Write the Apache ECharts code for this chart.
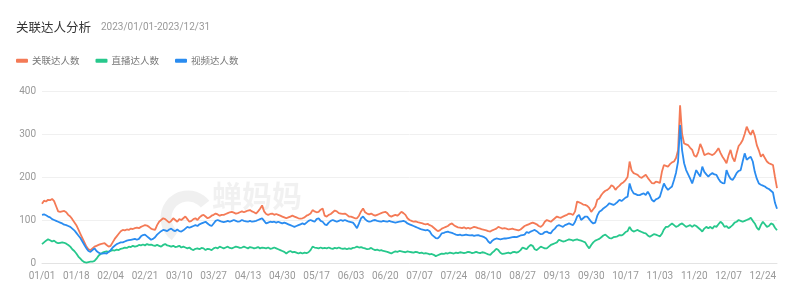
<!DOCTYPE html>
<html><head><meta charset="utf-8">
<script src="https://cdn.jsdelivr.net/npm/echarts@6/dist/echarts.min.js"></script>
<style>html,body{margin:0;padding:0;background:#fff}#c{width:800px;height:300px}</style>
</head><body><div id="c"></div>
<script>
const titleText = '关联达人分析';
const subText = '2023/01/01-2023/12/31';
const seriesNames = ['关联达人数', '直播达人数', '视频达人数'];
const yTicks = [0, 100, 200, 300, 400];

// categories: every day of 2023, labelled MM/DD
const categories = [];
(function(){
  const d = new Date(Date.UTC(2023,0,1));
  while (d.getUTCFullYear() === 2023) {
    const m = String(d.getUTCMonth()+1).padStart(2,'0');
    const dd = String(d.getUTCDate()).padStart(2,'0');
    categories.push(m + '/' + dd);
    d.setUTCDate(d.getUTCDate()+1);
  }
})();

const relatedCount = [
138,145,143,147,146,149,144,132,120,119,
120,121,118,112,108,102,95,88,78,68,
58,48,38,32,30,34,38,40,42,44,
45,46,42,38,40,48,56,62,68,74,
77,76,78,77,80,79,81,82,81,84,
86,88,87,84,80,78,77,88,96,100,
104,102,98,94,98,104,100,96,102,100,
104,108,102,96,98,102,104,100,106,110,
112,108,104,106,110,112,115,113,110,112,
112,114,116,118,119,117,115,116,118,120,
118,120,122,123,120,118,115,120,126,134,
120,114,112,114,115,112,114,112,110,108,
106,104,106,108,110,108,106,104,103,104,
106,110,112,115,123,120,118,119,124,127,
110,108,112,114,118,122,120,116,115,114,
115,112,108,108,106,104,104,110,120,127,
118,115,113,115,112,110,112,114,116,118,
119,116,110,108,110,112,110,114,119,116,
112,104,100,98,96,97,95,94,93,91,
90,91,88,86,82,78,74,76,80,82,
84,86,90,92,88,85,83,82,81,83,
80,82,80,82,84,83,81,80,78,77,
76,74,73,76,78,80,84,82,80,81,
80,78,79,80,78,77,76,78,82,86,
88,90,92,94,92,90,86,84,88,96,
100,98,96,100,104,108,106,105,108,110,
112,115,114,112,120,143,141,139,136,135,
133,128,119,125,131,147,150,158,164,168,
170,174,181,178,170,176,180,185,188,193,
200,236,215,209,207,205,200,198,202,205,
198,192,186,185,189,188,186,212,228,226,
224,230,234,236,244,262,367,300,278,276,
274,268,263,250,247,258,277,266,251,253,
255,253,251,254,260,267,256,247,240,232,
250,263,245,236,255,272,278,286,300,317,
306,298,309,296,274,262,247,253,244,236,
232,230,228,200,174
];

const liveCount = [
44,48,52,55,53,50,52,48,46,47,
48,47,45,42,38,32,28,22,15,10,
5,2,1,2,3,3,5,10,17,21,
24,26,27,26,28,30,29,31,30,33,
34,36,35,38,37,40,38,39,42,41,
43,41,44,42,43,41,40,42,40,38,
42,44,41,40,38,40,37,38,40,36,
38,36,34,36,32,30,33,34,32,35,
34,30,33,32,30,34,36,34,38,36,
34,36,38,35,34,36,38,37,35,36,
38,36,34,37,36,34,35,37,34,36,
35,34,36,33,34,36,34,32,30,28,
26,22,26,28,25,26,24,22,24,22,
24,23,25,30,38,36,35,34,36,34,
35,34,36,34,33,35,34,36,34,33,
34,32,34,33,35,36,38,36,37,35,
34,32,33,35,32,30,31,29,30,28,
27,26,24,22,25,27,26,28,27,26,
25,27,26,25,24,26,25,23,24,22,
23,22,20,21,19,16,18,20,22,21,
23,22,24,23,22,24,23,25,24,23,
24,26,25,23,24,26,24,23,25,24,
22,20,19,24,28,33,30,24,21,22,
23,24,22,25,26,24,26,30,36,34,
32,38,42,40,32,30,34,38,36,34,
34,38,42,44,46,48,54,52,50,51,
53,55,54,52,54,55,53,52,50,48,
40,34,42,48,52,54,56,60,64,66,
62,58,57,60,61,62,65,64,67,72,
74,84,76,73,75,77,74,72,70,69,
64,61,64,67,66,64,62,68,78,84,
84,88,92,88,84,86,90,92,88,84,
86,88,84,88,86,82,78,73,80,84,
81,84,80,86,84,90,96,92,84,86,
81,84,88,94,96,100,98,96,98,100,
102,105,98,92,82,77,88,96,90,84,
86,92,90,82,76
];

const videoCount = [
112,113,111,108,106,102,100,98,96,94,
92,89,88,86,84,80,76,70,64,58,
50,42,34,28,26,30,34,28,24,22,
22,23,22,26,30,36,40,44,46,48,
48,50,52,53,54,55,56,54,56,62,
65,66,62,58,54,56,60,66,70,74,
77,76,74,78,80,76,74,78,74,73,
76,80,84,82,84,86,88,86,90,92,
94,96,92,88,86,92,98,100,98,96,
95,96,98,96,98,100,98,96,97,100,
98,97,96,98,96,97,98,100,102,104,
98,92,94,96,95,96,94,96,94,92,
94,92,90,88,86,84,86,88,90,92,
90,94,98,100,98,96,102,104,98,96,
90,88,94,98,100,98,96,98,100,98,
100,98,96,95,94,88,81,92,104,108,
102,98,96,97,99,100,98,97,96,98,
97,96,98,96,95,94,95,96,97,98,
96,92,90,88,86,84,82,80,78,77,
76,77,74,66,62,58,57,62,69,70,
72,73,71,70,68,66,65,66,64,65,
66,65,64,65,63,64,65,63,62,60,
57,50,46,52,55,57,56,55,56,57,
57,58,59,60,61,60,62,64,65,66,
72,70,73,75,77,74,70,67,68,72,
73,70,69,76,80,86,88,86,84,88,
90,92,90,88,96,108,112,100,104,108,
108,102,96,92,94,110,119,122,127,130,
134,139,137,135,138,142,147,144,148,152,
154,185,170,162,160,158,158,160,162,158,
166,158,147,143,148,150,154,170,185,176,
170,174,178,193,210,236,321,262,232,216,
206,196,185,200,216,208,201,224,212,206,
201,206,209,206,205,196,189,186,185,216,
204,196,193,200,209,214,216,236,255,240,
244,247,236,212,196,185,182,180,178,174,
172,168,164,140,126
];

const colors = ['#F47A56', '#27C88C', '#2A8CF0'];
const chart = echarts.init(document.getElementById('c'), null, {renderer: 'canvas'});
chart.setOption({
  animation: false,
  color: colors,
  title: {
    left: 11, top: 13,
    text: '{a|' + titleText + '}  {b|' + subText + '}',
    textStyle: {
      fontWeight: 'normal',
      rich: {
        a: {fontSize: 12.5, color: '#333', fontWeight: 'normal', fontFamily: 'Noto Sans CJK SC'},
        b: {fontSize: 10, color: '#999', fontWeight: 'normal', fontFamily: 'Roboto'}
      }
    }
  },
  legend: {
    left: 11, top: 51,
    icon: 'roundRect', itemWidth: 12, itemHeight: 4, itemGap: 16,
    textStyle: {fontSize: 9.5, color: '#777', fontFamily: 'Noto Sans CJK SC', padding: [0,0,0,-1]},
    data: seriesNames
  },
  graphic: [
    {type: 'arc', silent: true, z: 0, shape: {cx: 188, cy: 218, r: 22, startAngle: 2.2, endAngle: 5.6},
     style: {stroke: 'rgba(0,0,0,0.06)', lineWidth: 11, fill: null}},
    {type: 'text', silent: true, z: 0, left: 212, top: 181,
     style: {text: '蝉妈妈', fontSize: 30, fontWeight: 'bold', fill: 'rgba(0,0,0,0.055)', fontFamily: 'Noto Sans CJK SC'}}
  ],
  grid: {left: 42, right: 23, top: 91, bottom: 37, containLabel: false},
  xAxis: {
    type: 'category', data: categories, boundaryGap: false,
    axisLine: {lineStyle: {color: '#e3e3e3'}},
    axisTick: {show: false},
    axisLabel: {interval: 16, color: '#999', fontSize: 10, margin: 8, fontFamily: 'Roboto'},
    splitLine: {show: false}
  },
  yAxis: {
    type: 'value', min: yTicks[0], max: yTicks[yTicks.length-1], interval: 100,
    axisLine: {show: false}, axisTick: {show: false},
    axisLabel: {color: '#999', fontSize: 10, margin: 6, fontFamily: 'Roboto'},
    splitLine: {lineStyle: {color: '#f0f0f0'}}
  },
  series: [
    {name: seriesNames[0], type: 'line', data: relatedCount, showSymbol: false, symbol: 'none', lineStyle: {width: 1.8}, z: 3},
    {name: seriesNames[1], type: 'line', data: liveCount, showSymbol: false, symbol: 'none', lineStyle: {width: 1.8}, z: 3},
    {name: seriesNames[2], type: 'line', data: videoCount, showSymbol: false, symbol: 'none', lineStyle: {width: 1.8}, z: 3}
  ]
});
</script>
</body></html>
